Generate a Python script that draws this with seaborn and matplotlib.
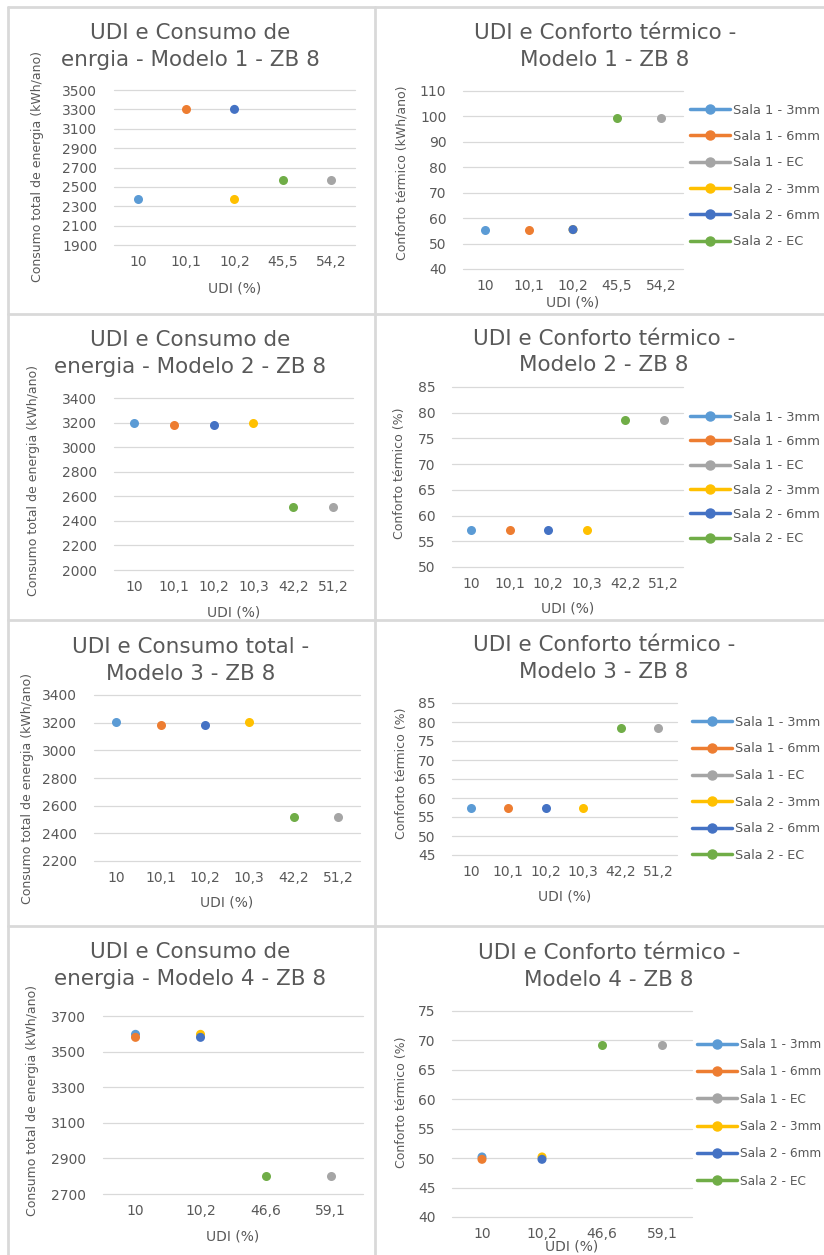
import matplotlib
matplotlib.use("Agg")
import matplotlib.pyplot as plt
from matplotlib.lines import Line2D
import seaborn as sns
import pandas as pd
import numpy as np

# ---------------- data ----------------
SERIES = ["Sala 1 - 3mm", "Sala 1 - 6mm", "Sala 1 - EC",
          "Sala 2 - 3mm", "Sala 2 - 6mm", "Sala 2 - EC"]
COLORS = ["#5B9BD5", "#ED7D31", "#A5A5A5", "#FFC000", "#4472C4", "#70AD47"]

cats_m1 = ["10", "10,1", "10,2", "45,5", "54,2"]
udi_m1 = ["10", "10,1", "54,2", "10,2", "10,2", "45,5"]
energia_m1 = [2370, 3300, 2570, 2370, 3300, 2570]
conforto_m1 = [55.5, 55.5, 99.5, 55.5, 55.5, 99.5]

cats_m2 = ["10", "10,1", "10,2", "10,3", "42,2", "51,2"]
udi_m2 = ["10", "10,1", "51,2", "10,3", "10,2", "42,2"]
energia_m2 = [3200, 3180, 2510, 3200, 3180, 2510]
conforto_m2 = [57.2, 57.2, 78.6, 57.2, 57.2, 78.6]

cats_m3 = ["10", "10,1", "10,2", "10,3", "42,2", "51,2"]
udi_m3 = ["10", "10,1", "51,2", "10,3", "10,2", "42,2"]
energia_m3 = [3205, 3180, 2520, 3205, 3180, 2520]
conforto_m3 = [57.3, 57.3, 78.5, 57.3, 57.3, 78.5]

cats_m4 = ["10", "10,2", "46,6", "59,1"]
udi_m4 = ["10", "10", "59,1", "10,2", "10,2", "46,6"]
energia_m4 = [3597, 3580, 2800, 3597, 3580, 2800]
conforto_m4 = [50.2, 49.8, 69.2, 50.2, 49.8, 69.2]

YLAB_E = "Consumo total de energia (kWh/ano)"
YLAB_C1 = "Conforto térmico (kWh/ano)"
YLAB_C = "Conforto térmico (%)"
XLAB = "UDI (%)"

# ---------------- layout ----------------
sns.set_theme(style="white")
plt.rcParams["font.family"] = ["DejaVu Sans"]
TXT = "#595959"
GRID = "#D9D9D9"
FS_TITLE = 15.5
FS_TICK = 10
FS_YLAB = 9
FS_XLAB = 10

W, H = 824, 1255
fig = plt.figure(figsize=(W / 100, H / 100), dpi=100)
fig.patch.set_facecolor("white")

panels = [
    dict(cats=cats_m1, udi=udi_m1, vals=energia_m1, ylim=(1900, 3500), step=200,
         title=("UDI e Consumo de", "enrgia - Modelo 1 - ZB 8"), ylab=YLAB_E,
         box=(114, 355, 90, 245), ty=(33, 60), tcx=190, yl=(38, 167), xly=288, leg=None),
    dict(cats=cats_m1, udi=udi_m1, vals=conforto_m1, ylim=(40, 110), step=10,
         title=("UDI e Conforto térmico -", "Modelo 1 - ZB 8"), ylab=YLAB_C1,
         box=(463, 683, 91, 269), ty=(33, 60), tcx=605, yl=(402, 173), xly=303,
         leg=(690, 110, 26, 9.4)),
    dict(cats=cats_m2, udi=udi_m2, vals=energia_m2, ylim=(2000, 3400), step=200,
         title=("UDI e Consumo de", "energia - Modelo 2 - ZB 8"), ylab=YLAB_E,
         box=(114, 353, 398, 570), ty=(340, 367), tcx=190, yl=(34, 480), xly=612, leg=None),
    dict(cats=cats_m2, udi=udi_m2, vals=conforto_m2, ylim=(50, 85), step=5,
         title=("UDI e Conforto térmico -", "Modelo 2 - ZB 8"), ylab=YLAB_C,
         box=(452, 683, 387, 567), ty=(339, 365), tcx=604, yl=(399, 473), xly=609,
         leg=(690, 417, 24, 9.4)),
    dict(cats=cats_m3, udi=udi_m3, vals=energia_m3, ylim=(2200, 3400), step=200,
         title=("UDI e Consumo total -", "Modelo 3 - ZB 8"), ylab=YLAB_E,
         box=(94, 360, 695, 861), ty=(647, 674), tcx=191, yl=(28, 789), xly=902, leg=None),
    dict(cats=cats_m3, udi=udi_m3, vals=conforto_m3, ylim=(45, 85), step=5,
         title=("UDI e Conforto térmico -", "Modelo 3 - ZB 8"), ylab=YLAB_C,
         box=(452, 677, 703, 855), ty=(645, 672), tcx=604, yl=(402, 773), xly=897,
         leg=(692, 722, 26, 9.2)),
    dict(cats=cats_m4, udi=udi_m4, vals=energia_m4, ylim=(2700, 3700), step=200,
         title=("UDI e Consumo de", "energia - Modelo 4 - ZB 8"), ylab=YLAB_E,
         box=(103, 363, 1016, 1194), ty=(952, 979), tcx=190, yl=(33, 1101), xly=1236, leg=None),
    dict(cats=cats_m4, udi=udi_m4, vals=conforto_m4, ylim=(40, 75), step=5,
         title=("UDI e Conforto térmico -", "Modelo 4 - ZB 8"), ylab=YLAB_C,
         box=(452, 692, 1011, 1217), ty=(953, 980), tcx=609, yl=(402, 1102), xly=1246,
         leg=(697, 1044, 26, 8.7)),
]


def fx(px):
    return px / W


def fy(py):
    return 1 - py / H


# panel borders
for xa in [8, 375]:
    fig.add_artist(Line2D([fx(xa), fx(xa)], [fy(7), fy(1255)], transform=fig.transFigure,
                          color=GRID, lw=2))
for yy in [7, 314, 620, 926]:
    fig.add_artist(Line2D([fx(8), fx(824)], [fy(yy), fy(yy)], transform=fig.transFigure,
                          color=GRID, lw=2))

handles = [Line2D([], [], color=c, lw=2.5, marker="o", markersize=6.5) for c in COLORS]

for p in panels:
    x0, x1, y0, y1 = p["box"]
    ax = fig.add_axes([fx(x0), fy(y1), (x1 - x0) / W, (y1 - y0) / H])
    df = pd.DataFrame({"serie": SERIES, "udi": p["udi"], "valor": p["vals"]})
    sns.stripplot(data=df, x="udi", y="valor", hue="serie", order=p["cats"],
                  hue_order=SERIES, palette=COLORS, jitter=False, dodge=False,
                  size=6.5, linewidth=0, legend=False, ax=ax, zorder=3)
    lo, hi = p["ylim"]
    ax.set_ylim(lo, hi)
    ax.set_yticks(np.arange(lo, hi + 1, p["step"]))
    ax.set_xlim(-0.5, len(p["cats"]) - 0.5)
    ax.grid(axis="y", color=GRID, lw=0.9)
    ax.grid(axis="x", visible=False)
    ax.set_axisbelow(True)
    for gl in ax.get_ygridlines():
        gl.set_clip_on(False)
    for s in ax.spines.values():
        s.set_visible(False)
    ax.tick_params(axis="both", length=0, labelsize=FS_TICK, colors=TXT)
    ax.tick_params(axis="x", pad=7)
    ax.tick_params(axis="y", pad=12)
    ax.set_xlabel("")
    ax.set_ylabel("")
    ax.set_facecolor("none")

    for line, ty in zip(p["title"], p["ty"]):
        fig.text(fx(p["tcx"]), fy(ty), line, ha="center", va="center",
                 fontsize=FS_TITLE, color=TXT)
    fig.text(fx(p["yl"][0]), fy(p["yl"][1]), p["ylab"], rotation=90,
             ha="center", va="center", fontsize=FS_YLAB, color=TXT)
    fig.text(fx((x0 + x1) / 2), fy(p["xly"]), XLAB, ha="center", va="center",
             fontsize=FS_XLAB, color=TXT)

    if p["leg"] is not None:
        lx, ly, lstep, fs_leg = p["leg"]
        fs_px = fs_leg * 100 / 72
        h = 0.97 * fs_px
        ax.legend(handles, SERIES, loc="upper left",
                  bbox_to_anchor=(fx(lx), fy(ly - h / 2)),
                  bbox_transform=fig.transFigure, frameon=False, fontsize=fs_leg,
                  handlelength=40 / fs_px, handletextpad=3.0 / fs_px, borderpad=0,
                  borderaxespad=0, labelspacing=(lstep - h) / fs_px,
                  labelcolor=TXT)

fig.savefig("out.png", dpi=100, facecolor="white")
